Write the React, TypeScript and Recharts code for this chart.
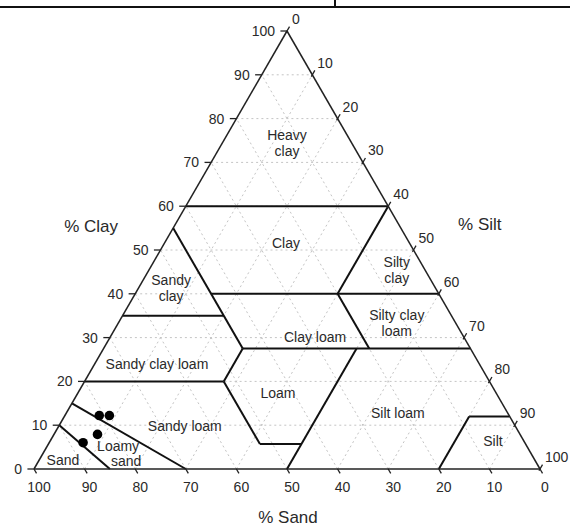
import React from 'react';
import { ScatterChart, XAxis, YAxis, ReferenceLine, Scatter } from 'recharts';

type T = [number, number, number]; // [sand, silt, clay]

const TICK_VALUES = [0, 10, 20, 30, 40, 50, 60, 70, 80, 90, 100];
const GRID_VALUES = [10, 20, 30, 40, 50, 60, 70, 80, 90];

const BOUNDARIES: [T, T][] = [
  [[40, 0, 60], [0, 40, 60]],
  [[0, 40, 60], [20, 40, 40]],
  [[45, 15, 40], [0, 60, 40]],
  [[45, 0, 55], [45, 27.5, 27.5]],
  [[65, 0, 35], [45, 20, 35]],
  [[20, 40, 40], [20, 52.5, 27.5]],
  [[45, 27.5, 27.5], [0, 72.5, 27.5]],
  [[45, 27.5, 27.5], [52.5, 27.5, 20]],
  [[80, 0, 20], [52.5, 27.5, 20]],
  [[52.5, 27.5, 20], [52.5, 41.8, 5.7]],
  [[52.5, 41.8, 5.7], [44.3, 50, 5.7]],
  [[22.5, 50, 27.5], [50, 50, 0]],
  [[20, 80, 0], [8, 80, 12]],
  [[8, 80, 12], [0, 88, 12]],
  [[85, 0, 15], [70, 30, 0]],
  [[90, 0, 10], [85, 15, 0]],
];

const REGION_LABELS = ['Heavy\nclay', 'Clay', 'Sandy\nclay', 'Sandy clay loam', 'Clay loam', 'Loam', 'Silty\nclay', 'Silty clay\nloam', 'Silt loam', 'Silt', 'Sandy loam', 'Loamy', 'sand', 'Sand'];
const REGION_SAND = [12.75, 24.4, 52.25, 63.7, 29.4, 43.1, 5.6, 11.6, 21.7, 6.1, 65.3, 80.75, 80.9, 93.25];
const REGION_SILT = [12.75, 24, 6.45, 12.3, 40.5, 39.5, 49, 55, 65.5, 87.5, 24.9, 14, 17.3, 4.7];
const REGION_CLAY = [74.5, 51.6, 41.3, 24, 30.1, 17.4, 45.4, 33.4, 12.8, 6.4, 9.8, 5.25, 1.83, 2.05];

const SAMPLE_SAND = [81, 79, 83.5, 87.3];
const SAMPLE_SILT = [6.8, 8.8, 8.6, 6.7];
const SAMPLE_CLAY = [12.2, 12.2, 7.9, 6.0];

const AXIS_TITLES = ['% Clay', '% Silt', '% Sand'];

const FONT = '"Liberation Sans", Arial, Helvetica, sans-serif';

const toXY = (sand: number, silt: number, clay: number) => ({ x: silt + clay / 2, y: clay });

function TextShape(props: any) {
  const { cx, cy } = props;
  const p = props.payload ?? props;
  const lines = String(p.text).split('\n');
  const lh = 16;
  const fs = p.size ?? 14;
  const x = cx + (p.dx ?? 0);
  const y0 = cy + (p.dy ?? 0) - ((lines.length - 1) * lh) / 2 + fs * 0.35;
  return (
    <text x={x} y={y0} textAnchor={p.anchor ?? 'middle'} fontSize={fs} fill="#2a2a2a" fontFamily={FONT}>
      {lines.map((l: string, i: number) => (
        <tspan key={i} x={x} y={y0 + i * lh}>{l}</tspan>
      ))}
    </text>
  );
}

function Dot(props: any) {
  const { cx, cy } = props;
  return <circle cx={cx} cy={cy} r={4.8} fill="#000" />;
}

export default function App() {
  const gridSegs: { x: number; y: number }[][] = [];
  GRID_VALUES.forEach((k) => {
    gridSegs.push([toXY(100 - k, 0, k), toXY(0, 100 - k, k)]);
    gridSegs.push([toXY(100 - k, k, 0), toXY(0, k, 100 - k)]);
    gridSegs.push([toXY(k, 100 - k, 0), toXY(k, 0, 100 - k)]);
  });

  const edges = [
    [toXY(100, 0, 0), toXY(0, 100, 0)],
    [toXY(100, 0, 0), toXY(0, 0, 100)],
    [toXY(0, 100, 0), toXY(0, 0, 100)],
  ];

  const clayTicks = TICK_VALUES.map((k) => {
    const p = toXY(100 - k, 0, k);
    return [{ x: p.x - 1.3, y: p.y }, p];
  });
  const siltTicks = TICK_VALUES.map((k) => {
    const p = toXY(0, k, 100 - k);
    return [{ x: p.x - 0.2, y: p.y - 0.4 }, { x: p.x + 0.5, y: p.y + 1 }];
  });
  const sandTicks = TICK_VALUES.map((k) => {
    const p = toXY(k, 100 - k, 0);
    return [p, { x: p.x + 0.5, y: p.y - 1 }];
  });

  const tickLabels = [
    ...TICK_VALUES.map((k) => ({ ...toXY(100 - k, 0, k), text: String(k), anchor: 'end', dx: -12, dy: 0 })),
    ...TICK_VALUES.map((k) => ({ ...toXY(0, k, 100 - k), text: String(k), anchor: 'start', dx: 5, dy: -12 })),
    ...TICK_VALUES.map((k) => ({ ...toXY(k, 100 - k, 0), text: String(k), anchor: 'middle', dx: 5, dy: 18 })),
  ];

  const regionData = REGION_LABELS.map((t, i) => ({
    ...toXY(REGION_SAND[i], REGION_SILT[i], REGION_CLAY[i]),
    text: t,
    anchor: 'middle',
    dx: 0,
    dy: 0,
  }));

  const titleData = [
    { ...toXY(45, 0, 55), text: AXIS_TITLES[0], anchor: 'middle', dx: -82, dy: -2, size: 17 },
    { ...toXY(0, 45, 55), text: AXIS_TITLES[1], anchor: 'middle', dx: 79, dy: -4, size: 17 },
    { ...toXY(50, 50, 0), text: AXIS_TITLES[2], anchor: 'middle', dx: 1, dy: 48, size: 17 },
  ];

  const samples = SAMPLE_SAND.map((s, i) => toXY(s, SAMPLE_SILT[i], SAMPLE_CLAY[i]));

  return (
    <div style={{ position: 'absolute', left: 0, top: 0, width: 570, height: 526, background: '#fff', overflow: 'hidden' }}>
      <div style={{ position: 'absolute', left: 0, top: 6, width: 570, height: 2, background: '#111' }} />
      <div style={{ position: 'absolute', left: 334, top: 0, width: 2, height: 7, background: '#111' }} />
      <ScatterChart width={570} height={526} margin={{ top: 31, right: 30, bottom: 57, left: 34 }} style={{ position: 'absolute', left: 0, top: 0 }}>
        <XAxis type="number" dataKey="x" domain={[0, 100]} hide />
        <YAxis type="number" dataKey="y" domain={[0, 100]} hide />
        {gridSegs.map((s, i) => (
          <ReferenceLine key={'g' + i} segment={s} stroke="#c4c4c4" strokeWidth={1} strokeDasharray="2 3" ifOverflow="visible" />
        ))}
        {BOUNDARIES.map(([a, b], i) => (
          <ReferenceLine key={'b' + i} segment={[toXY(...a), toXY(...b)]} stroke="#111" strokeWidth={2} ifOverflow="visible" />
        ))}
        {edges.map((s, i) => (
          <ReferenceLine key={'e' + i} segment={s} stroke="#222" strokeWidth={1.5} ifOverflow="visible" />
        ))}
        {[...clayTicks, ...siltTicks, ...sandTicks].map((s, i) => (
          <ReferenceLine key={'t' + i} segment={s} stroke="#222" strokeWidth={1.3} ifOverflow="visible" />
        ))}
        <Scatter data={tickLabels} dataKey="y" shape={TextShape} isAnimationActive={false} />
        <Scatter data={regionData} dataKey="y" shape={TextShape} isAnimationActive={false} />
        <Scatter data={titleData} dataKey="y" shape={TextShape} isAnimationActive={false} />
        <Scatter data={samples} dataKey="y" shape={Dot} isAnimationActive={false} />
      </ScatterChart>
    </div>
  );
}
